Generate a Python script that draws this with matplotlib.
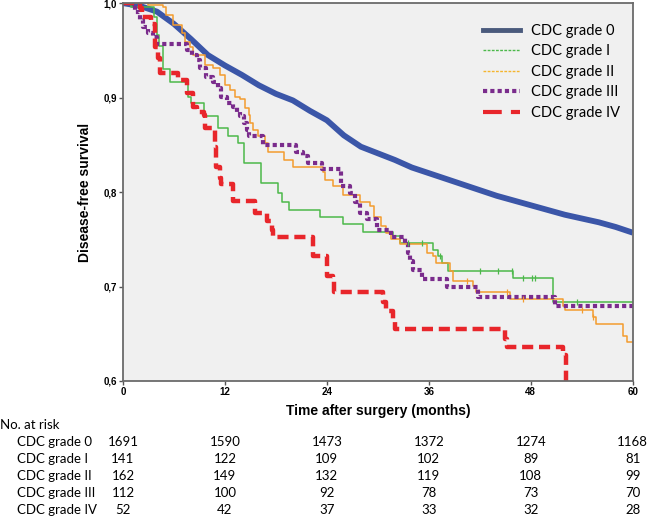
import matplotlib
matplotlib.use("Agg")
import matplotlib.pyplot as plt
from matplotlib.lines import Line2D
from matplotlib.transforms import blended_transform_factory

# Kaplan-Meier curves (months, survival)
t_g0 = [0, 2, 4, 6, 8, 10, 12, 14, 16, 18, 20, 22, 24, 26, 28, 30, 32, 34, 36, 38, 40,
        42, 44, 46, 48, 50, 52, 54, 56, 58, 60]
s_g0 = [1.000, 0.997, 0.991, 0.978, 0.962, 0.945, 0.934, 0.924, 0.913, 0.904, 0.897, 0.886,
        0.876, 0.860, 0.848, 0.841, 0.834, 0.826, 0.820, 0.814, 0.808, 0.802, 0.796, 0.791,
        0.786, 0.781, 0.776, 0.772, 0.768, 0.763, 0.757]

t_g1 = [0, 1.0, 3.6, 4.0, 4.3, 4.7, 5.5, 7.7, 8.0, 9.5, 11.2, 12.4, 13.6, 14.2, 16.3, 18.3,
        18.7, 19.6, 23.2, 25.9, 28.2, 31.8, 32.6, 36.5, 37.1, 37.6, 38.2, 45.9, 50.6, 60]
s_g1 = [1.0, 0.996, 0.985, 0.966, 0.955, 0.930, 0.917, 0.901, 0.894, 0.880, 0.868, 0.859,
        0.852, 0.831, 0.810, 0.799, 0.789, 0.781, 0.774, 0.766, 0.758, 0.753, 0.746, 0.739,
        0.732, 0.725, 0.716, 0.709, 0.684, 0.684]
c_g1 = [33.5, 35.2, 37.3, 42.0, 44.1, 45.8, 47.1, 48.1, 48.5, 53.4]

t_g2 = [0, 3.0, 4.7, 5.1, 5.9, 6.9, 7.3, 7.9, 8.3, 9.6, 10.6, 11.4, 12.0, 12.6, 13.2, 13.8,
        14.4, 14.8, 14.9, 15.3, 15.9, 16.7, 17.1, 18.9, 20.0, 23.5, 23.8, 24.7, 25.9, 27.9,
        29.1, 29.5, 30.4, 31.0, 31.6, 32.6, 35.8, 36.5, 36.9, 38.5, 38.9, 41.2, 41.6, 45.5,
        51.8, 52.0, 55.3, 55.7, 58.8, 59.3, 60]
s_g2 = [1.0, 0.998, 0.996, 0.987, 0.977, 0.968, 0.959, 0.954, 0.945, 0.935, 0.931, 0.924,
        0.913, 0.908, 0.901, 0.898, 0.889, 0.882, 0.873, 0.866, 0.859, 0.852, 0.842, 0.834,
        0.827, 0.821, 0.813, 0.806, 0.797, 0.789, 0.785, 0.774, 0.764, 0.757, 0.750, 0.745,
        0.736, 0.732, 0.725, 0.716, 0.706, 0.701, 0.694, 0.687, 0.679, 0.675, 0.668, 0.660,
        0.648, 0.641, 0.641]
c_g2 = [40.5, 45.2, 47.1, 54.0, 55.3]

t_g3 = [0, 1.4, 2.0, 2.4, 3.0, 3.5, 4.0, 7.5, 8.1, 8.7, 9.1, 9.8, 10.6, 11.2, 11.6, 12.2,
        13.0, 13.4, 13.8, 14.2, 14.6, 14.8, 16.5, 20.4, 21.2, 21.8, 23.4, 25.7, 26.7, 27.3,
        27.9, 28.7, 29.9, 31.6, 33.2, 33.5, 33.8, 34.1, 35.2, 38.1, 41.8, 50.8, 60]
s_g3 = [1.0, 0.991, 0.982, 0.975, 0.968, 0.964, 0.957, 0.950, 0.945, 0.940, 0.931, 0.922,
        0.916, 0.910, 0.901, 0.894, 0.890, 0.885, 0.880, 0.873, 0.866, 0.859, 0.850, 0.842,
        0.838, 0.831, 0.824, 0.806, 0.799, 0.789, 0.778, 0.771, 0.760, 0.752, 0.745, 0.736,
        0.727, 0.718, 0.708, 0.699, 0.689, 0.679, 0.679]

t_g4 = [0, 2.0, 2.2, 3.3, 3.8, 4.1, 4.4, 6.5, 7.5, 8.3, 8.7, 9.5, 9.6, 10.8, 11.0, 11.4,
        11.6, 13.0, 15.5, 16.9, 17.5, 17.7, 22.4, 24.0, 24.7, 24.8, 30.6, 31.0, 31.8, 32.0,
        45.0, 45.2, 51.8, 52.1]
s_g4 = [1.0, 0.995, 0.985, 0.978, 0.954, 0.942, 0.926, 0.919, 0.905, 0.890, 0.885, 0.882,
        0.868, 0.848, 0.827, 0.815, 0.808, 0.790, 0.778, 0.769, 0.760, 0.752, 0.732, 0.711,
        0.708, 0.694, 0.684, 0.674, 0.665, 0.655, 0.644, 0.636, 0.627, 0.600]

groups = ["CDC grade 0", "CDC grade I", "CDC grade II", "CDC grade III", "CDC grade IV"]
risk_times = [0, 12, 24, 36, 48, 60]
risk_g0 = [1691, 1590, 1473, 1372, 1274, 1168]
risk_g1 = [141, 122, 109, 102, 89, 81]
risk_g2 = [162, 149, 132, 119, 108, 99]
risk_g3 = [112, 100, 92, 78, 73, 70]
risk_g4 = [52, 42, 37, 33, 32, 28]

blue, green, orange, purple, red = "#3b56a8", "#4cb84a", "#f39c2e", "#7a2c8c", "#e8262b"

fig = plt.figure(figsize=(6.47, 5.18), dpi=100)
ax = fig.add_axes([0.190, 0.2645, 0.788, 0.7295])
ax.set_facecolor("#f0f0f0")

ax.plot(t_g0, s_g0, color=blue, lw=4.2, solid_capstyle="butt")
ax.step(t_g1, s_g1, where="post", color=green, lw=1.1)
ax.step(t_g2, s_g2, where="post", color=orange, lw=1.1)
ax.step(t_g3, s_g3, where="post", color=purple, lw=3.0, linestyle=(0, (1, 0.75)),
        dash_capstyle="butt")
ax.step(t_g4, s_g4, where="post", color=red, lw=3.2, linestyle=(0, (2.5, 1.3)),
        dash_capstyle="butt")

# censoring marks
def at(ts, ss, x):
    v = ss[0]
    for t, s in zip(ts, ss):
        if t <= x:
            v = s
    return v

ax.plot(c_g1, [at(t_g1, s_g1, c) for c in c_g1], ls="none", marker="|", ms=5,
        mew=0.9, color=green)
ax.plot(c_g2, [at(t_g2, s_g2, c) for c in c_g2], ls="none", marker="|", ms=5,
        mew=0.9, color=orange)

ax.set_xlim(0, 60)
ax.set_ylim(0.6, 1.0)
ax.set_xticks(risk_times)
ax.set_yticks([0.6, 0.7, 0.8, 0.9, 1.0])
ax.set_yticklabels(["0,6", "0,7", "0,8", "0,9", "1,0"])
bold_font = ["Liberation Sans", "DejaVu Sans"]
for lab in ax.get_xticklabels() + ax.get_yticklabels():
    lab.set_family(bold_font)
    lab.set_fontweight("bold")
    lab.set_fontsize(7)
ax.tick_params(length=3, width=1, color="#555555", pad=1.5)
for sp in ax.spines.values():
    sp.set_color("#6b6b6b")
    sp.set_linewidth(1.3)

ax.set_xlabel("Time after surgery (months)", family=bold_font, fontweight="bold",
              fontsize=10, labelpad=5)
ax.set_ylabel("Disease-free survival", family=bold_font,
              fontweight="bold", fontsize=10, labelpad=8)

handles = [
    Line2D([], [], color="#4a5a7c", lw=3.5),
    Line2D([], [], color=green, lw=1.0, ls=(0, (2, 1))),
    Line2D([], [], color="#f5b52e", lw=1.0, ls=(0, (2, 1))),
    Line2D([], [], color=purple, lw=3.0, ls=(0, (1, 0.75)), dash_capstyle="butt"),
    Line2D([], [], color=red, lw=3.0, ls=(0, (4.5, 2.2)), dash_capstyle="butt"),
]
ax.legend(handles, groups, loc="upper right", bbox_to_anchor=(1.0, 0.98), frameon=False,
          prop={"family": "Lato", "size": 10.5}, handlelength=2.6, handletextpad=0.7,
          labelspacing=0.45)

# number-at-risk table
tr = blended_transform_factory(ax.transData, fig.transFigure)
font_tab = {"family": "Lato", "size": 9.5}
fig.text(0.0, 1 - 425 / 518, "No. at risk", ha="left", va="center", **font_tab)
rows = [risk_g0, risk_g1, risk_g2, risk_g3, risk_g4]
for i, (name, row) in enumerate(zip(groups, rows)):
    y = 1 - (442 + 17 * i) / 518
    fig.text(17 / 647, y, name, ha="left", va="center", **font_tab)
    for t, n in zip(risk_times, row):
        ax.text(t, y, str(n), transform=tr, ha="center", va="center", clip_on=False,
                **font_tab)

fig.savefig("out.png", dpi=100)
